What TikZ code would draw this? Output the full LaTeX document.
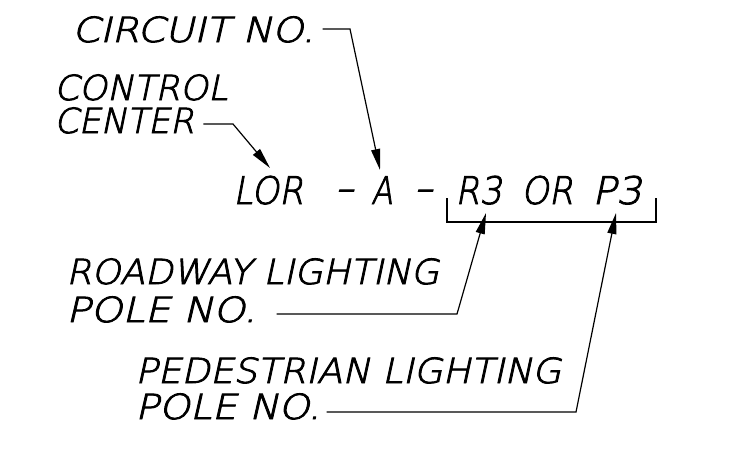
\documentclass[tikz,border=0pt]{standalone}
\usepackage{fontspec}
\usepackage{graphicx}
\IfFontExistsTF{DejaVu Sans ExtraLight}
  {\newfontfamily\cadfont{DejaVu Sans ExtraLight}[FakeSlant=0.2,FakeBold=2.5]}
  {\newfontfamily\cadfont{DejaVu Sans}[FakeSlant=0.2]}
\usetikzlibrary{arrows.meta}
\tikzset{
  lbl/.style={font=\cadfont\fontsize{34.5}{40}\selectfont, anchor=base west, inner sep=0pt, text=black},
  biglbl/.style={lbl, font=\cadfont\fontsize{38}{44}\selectfont},
  leader/.style={line width=1.2pt, -{Triangle[length=21pt,width=9pt]}},
  plainline/.style={line width=1.2pt}
}
\begin{document}
\begin{tikzpicture}[x=1pt,y=-1pt]
\fill[white] (0,0) rectangle (751,466);
\useasboundingbox (0,0) rectangle (751,466);
% labels
\node[lbl] (circuit) at (72,42) {\scalebox{1.15}[1]{CIRCUIT NO.}};
\node[lbl] (control) at (54,100) {\scalebox{1.03}[1]{CONTROL}};
\node[lbl] (center) at (54,133) {\scalebox{1.01}[1]{CENTER}};
\node[lbl] (roadway) at (66,284) {\scalebox{1.06}[1]{ROADWAY LIGHTING}};
\node[lbl] (pole1) at (66,322) {\scalebox{1.17}[1]{POLE NO.}};
\node[lbl] (ped) at (135,383) {\scalebox{1.08}[1]{PEDESTRIAN LIGHTING}};
\node[lbl] (pole2) at (135,419) {\scalebox{1.14}[1]{POLE NO.}};
% main designation
\node[biglbl] (lor) at (233,204) {\scalebox{0.92}[1]{LOR}};
\node[biglbl] (dash1) at (334,204) {\raisebox{3pt}{\scalebox{1.4}[1]{-}}};
\node[biglbl] (a) at (371,204) {\scalebox{0.82}[1]{A}};
\node[biglbl] (dash2) at (413,204) {\raisebox{3pt}{\scalebox{1.4}[1]{-}}};
\node[biglbl] (r3) at (455,204) {\scalebox{0.92}[1]{R3}};
\node[biglbl] (or) at (521,204) {\scalebox{0.92}[1]{OR}};
\node[biglbl] (p3) at (592,204) {\scalebox{1.05}[1]{P3}};
% bracket
\coordinate (bl) at (447,198);
\coordinate (bb) at (447,222);
\coordinate (br) at (656,198);
\draw[plainline] (bl) -- (bb) -| (br);
% leaders
\coordinate (cb) at (350,29);
\coordinate (ctip) at (380,170);
\draw[leader, shorten <=8pt] (circuit.east |- cb) -- (cb) -- (ctip);
\coordinate (kb) at (233,124);
\coordinate (ktip) at (270,168);
\draw[leader, shorten <=9pt] (center.east |- kb) -- (kb) -- (ktip);
\coordinate (rb) at (457,314);
\coordinate (rtip) at (486,213);
\draw[leader, shorten <=20pt] (pole1.east |- rb) -- (rb) -- (rtip);
\coordinate (pb) at (576,412);
\coordinate (ptip) at (616,213);
\draw[leader, shorten <=6pt] (pole2.east |- pb) -- (pb) -- (ptip);
\end{tikzpicture}
\end{document}
